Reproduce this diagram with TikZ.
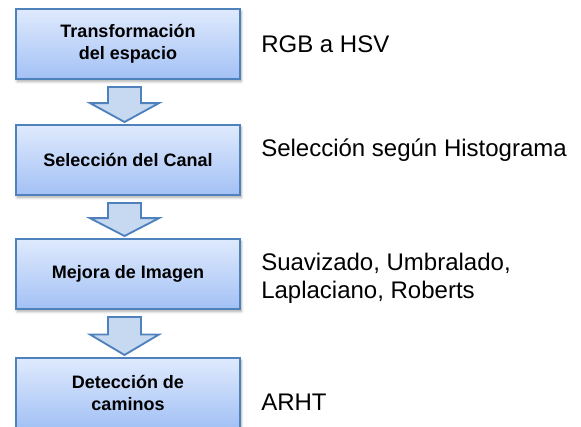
\documentclass[tikz,border=0pt]{standalone}
\usepackage{fontspec}
\setmainfont{Liberation Sans}
\usetikzlibrary{calc,shadows.blur}
\definecolor{boxline}{HTML}{4F81BD}
\definecolor{boxtop}{HTML}{DFEAFD}
\definecolor{boxbot}{HTML}{A3C1F5}
\definecolor{arrowfill}{HTML}{C6D9F1}
\begin{document}
\begin{tikzpicture}[x=0.75pt, y=-0.75pt,
  box/.style={rectangle, draw=boxline, line width=1.5pt, top color=boxtop, bottom color=boxbot, minimum width=168pt, minimum height=52.5pt, inner sep=0pt, align=center, font=\fontsize{13.5}{16.5}\selectfont\bfseries, blur shadow={shadow xshift=0.8pt, shadow yshift=-1.8pt, shadow opacity=35, shadow blur steps=6}},
  note/.style={inner sep=0pt, align=left, font=\fontsize{18}{21}\selectfont},
  flowarrow/.style={draw=boxline, line width=1.4pt, fill=arrowfill, line join=miter}]
  \useasboundingbox (0,0) rectangle (581,427);
  \node[box] (b1) at (128,44) {Transformación\\ del espacio};
  \node[box] (b2) at (128,160) {Selección del Canal};
  \node[box] (b3) at (128,274) {Mejora de Imagen};
  \node[box] (b4) at (128,393) {Detección de\\caminos};
  \node[note, anchor=base west] (l1) at (261,53) {RGB a HSV};
  \node[note, anchor=base west] (l2) at (261,157) {Selección según Histograma};
  \node[note, anchor=north west] (l3) at (261,253) {Suavizado, Umbralado,\\Laplaciano, Roberts};
  \node[note, anchor=base west] (l4) at (261,410) {ARHT};
  % block arrows between the steps
  \foreach \a/\b in {b1/b2, b2/b3, b3/b4}{
    \coordinate (s) at ($(\a.south)+(-3.5,7)$);
    \coordinate (t) at ($(\b.north)+(-3.5,-2)$);
    \coordinate (h) at ($(s)!0.46!(t)$);
    \draw[flowarrow] ($(s)+(-16.5,0)$) -- ($(s)+(16.5,0)$) -- ($(h)+(16.5,0)$) -- ($(h)+(34.5,0)$) -- (t) -- ($(h)+(-34.5,0)$) -- ($(h)+(-16.5,0)$) -- cycle;
  }
\end{tikzpicture}
\end{document}
